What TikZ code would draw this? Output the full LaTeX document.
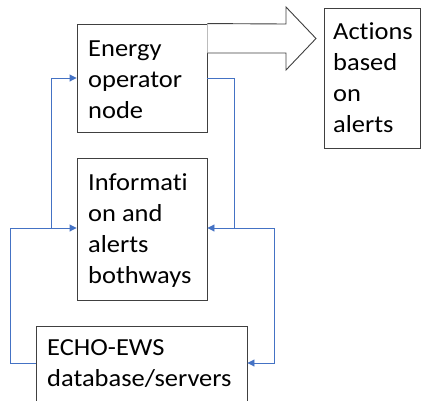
\documentclass[tikz,border=0pt]{standalone}
\usepackage{fontspec}
\setmainfont{Carlito}[Ligatures={NoCommon}, FakeStretch=1.08]
\usetikzlibrary{arrows.meta}
\definecolor{linkblue}{HTML}{4472C4}
\definecolor{boxgray}{HTML}{404040}
\tikzset{
  box/.style={draw=boxgray, line width=0.9pt, inner sep=0pt, fill=white},
  txt/.style={font=\fontsize{24.5}{31}\selectfont, align=left, inner sep=0pt, anchor=base west},
  link/.style={draw=linkblue, line width=0.9pt},
  linkarrow/.style={link, -{Triangle[length=7pt,width=7pt]}},
  bigarrow/.style={draw=boxgray, line width=0.9pt, fill=white, line join=miter}
}
\begin{document}
\begin{tikzpicture}[x=1pt, y=-1pt]
\useasboundingbox (0,0) rectangle (421,400);
% boxes
\node[box, minimum width=130pt, minimum height=108pt] (energy) at (142,78) {};
\node[box, minimum width=96pt, minimum height=140pt] (actions) at (372.5,78) {};
\node[box, minimum width=130pt, minimum height=142pt] (info) at (142,229) {};
\node[box, minimum width=211pt, minimum height=78pt] (echo) at (141.5,365) {};
% texts (anchored at the baseline of the last line)
\node[txt] (energytxt) at (88,118) {Energy\\operator\\node};
\node[txt] (actionstxt) at (333,132) {Actions\\based\\on\\alerts};
\node[txt] (infotxt) at (88,283) {Informati\\on and\\alerts\\bothways};
\node[txt] (echotxt) at (47,386) {ECHO-EWS\\database/servers};
% big outlined arrow
\draw[bigarrow] (energy.north east) -- (286,24) -- (286,7) -- (316,38.5) -- (286,70) -- (286,53) -- (energy.east |- 0,53);
% blue connectors
\coordinate (lj) at (51,228);
\coordinate (rj) at (274,228);
\draw[linkarrow] (echo.west |- 0,363) -- (10,363) -- (10,228) -- (info.west |- 0,228);
\draw[linkarrow] (lj) -- (51,78) -- (energy.west |- 0,78);
\draw[link] (energy.east |- 0,78) -- (234,78) -- (234,228);
\draw[linkarrow] (rj) -- (info.east |- 0,228);
\draw[linkarrow] (rj) -- (274,363) -- (echo.east |- 0,363);
\end{tikzpicture}
\end{document}
